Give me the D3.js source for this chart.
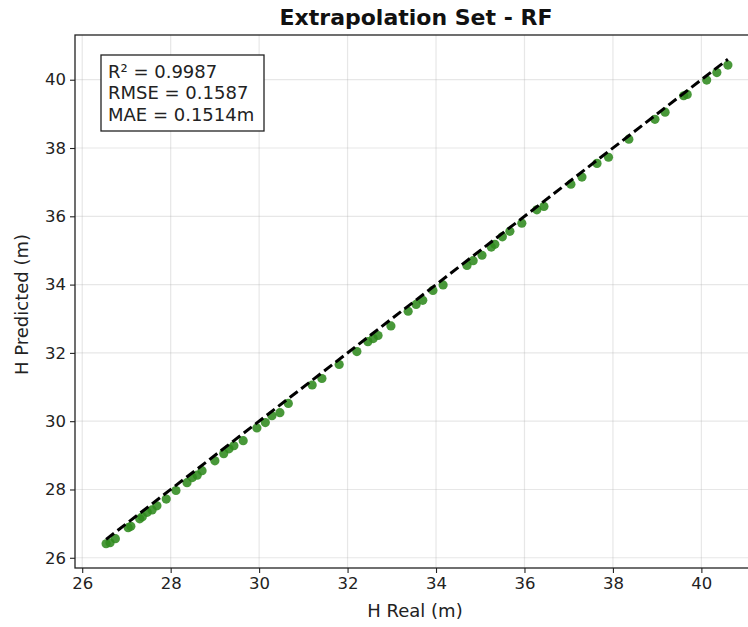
<!DOCTYPE html>
<html>
<head>
<meta charset="utf-8">
<script src="https://cdn.jsdelivr.net/npm/d3@7"></script>
<style>
  body { margin: 0; background: #fff; }
  svg { font-family: "DejaVu Sans", sans-serif; }
</style>
</head>
<body>
<svg class="svg" width="748" height="627"></svg>
<script>
// H real vs predicted
const hReal = [26.54, 26.63, 26.75, 27.04, 27.1, 27.3, 27.36, 27.47, 27.58, 27.69,
  27.9, 28.12, 28.37, 28.49, 28.6, 28.71, 29.0, 29.2, 29.32, 29.43,
  29.64, 29.95, 30.14, 30.29, 30.47, 30.66, 31.2, 31.42, 31.81, 32.21,
  32.46, 32.58, 32.69, 32.98, 33.37, 33.55, 33.7, 33.93, 34.16, 34.7,
  34.84, 35.04, 35.25, 35.33, 35.5, 35.67, 35.94, 36.28, 36.44, 37.05,
  37.3, 37.64, 37.9, 38.36, 38.95, 39.18, 39.6, 39.68, 40.12, 40.35, 40.6];
const hPred = [26.41, 26.44, 26.56, 26.88, 26.92, 27.14, 27.2, 27.33, 27.4, 27.52,
  27.72, 27.97, 28.2, 28.35, 28.42, 28.55, 28.84, 29.05, 29.19, 29.28,
  29.43, 29.8, 29.96, 30.16, 30.25, 30.52, 31.06, 31.25, 31.66, 32.04,
  32.33, 32.42, 32.51, 32.79, 33.22, 33.42, 33.54, 33.83, 33.99, 34.56,
  34.7, 34.86, 35.1, 35.18, 35.4, 35.56, 35.8, 36.19, 36.29, 36.94,
  37.15, 37.55, 37.73, 38.26, 38.84, 39.05, 39.53, 39.57, 39.99, 40.21, 40.43];
const tickVals = [26, 28, 30, 32, 34, 36, 38, 40];
const statLines = ['R\u00b2 = 0.9987', 'RMSE = 0.1587', 'MAE = 0.1514m'];

const points = hReal.map((d, i) => ({ x: d, y: hPred[i] }));
const lo = d3.min(hReal), hi = d3.max(hReal);

const pad = ext => {
  const m = (ext[1] - ext[0]) * 0.05;
  return [ext[0] - m, ext[1] + m];
};

const plotL = 75, plotR = 759, plotT = 35, plotB = 568;

const x = d3.scaleLinear().domain(pad([lo, hi])).range([plotL, plotR]);
const y = d3.scaleLinear()
  .domain(pad([Math.min(lo, d3.min(hPred)), Math.max(hi, d3.max(hPred))]))
  .range([plotB, plotT]);

const svg = d3.select('.svg');

// grid
svg.append('g')
  .selectAll('line')
  .data(tickVals)
  .join('line')
  .attr('x1', d => x(d)).attr('x2', d => x(d))
  .attr('y1', plotT).attr('y2', plotB)
  .attr('stroke', '#b0b0b0').attr('stroke-opacity', 0.3).attr('stroke-width', 1.2);
svg.append('g')
  .selectAll('line')
  .data(tickVals)
  .join('line')
  .attr('x1', plotL).attr('x2', plotR)
  .attr('y1', d => y(d)).attr('y2', d => y(d))
  .attr('stroke', '#b0b0b0').attr('stroke-opacity', 0.3).attr('stroke-width', 1.2);

// points
svg.append('g')
  .selectAll('circle')
  .data(points)
  .join('circle')
  .attr('cx', d => x(d.x))
  .attr('cy', d => y(d.y))
  .attr('r', 4.6)
  .attr('fill', '#2f8a1e')
  .attr('fill-opacity', 0.88);

// 1:1 line
svg.append('line')
  .attr('x1', x(lo)).attr('y1', y(lo))
  .attr('x2', x(hi)).attr('y2', y(hi))
  .attr('stroke', '#000')
  .attr('stroke-width', 3)
  .attr('stroke-dasharray', '10,4.5');

// axes
const xAxis = svg.append('g')
  .attr('transform', `translate(0,${plotB})`)
  .call(d3.axisBottom(x).tickValues(tickVals).tickSize(5).tickPadding(4));
const yAxis = svg.append('g')
  .attr('transform', `translate(${plotL},0)`)
  .call(d3.axisLeft(y).tickValues(tickVals).tickSize(5).tickPadding(4));
[xAxis, yAxis].forEach(a => {
  a.select('.domain').remove();
  a.selectAll('line').attr('stroke', '#222').attr('stroke-width', 1.1);
  a.selectAll('text')
    .attr('fill', '#222')
    .style('font-family', '"DejaVu Sans", sans-serif')
    .style('font-size', '16.5px');
});

// frame
svg.append('rect')
  .attr('x', plotL).attr('y', plotT)
  .attr('width', plotR - plotL).attr('height', plotB - plotT)
  .attr('fill', 'none').attr('stroke', '#222').attr('stroke-width', 1.3);

// stats box
svg.append('rect')
  .attr('x', 101).attr('y', 55)
  .attr('width', 163).attr('height', 76)
  .attr('fill', '#fff').attr('stroke', '#222').attr('stroke-width', 1.3);
svg.append('g')
  .selectAll('text')
  .data(statLines)
  .join('text')
  .attr('x', 108)
  .attr('y', (d, i) => 77.5 + i * 21.5)
  .attr('fill', '#222')
  .style('font-size', '18px')
  .text(d => d);

// titles
svg.append('text')
  .attr('x', 416).attr('y', 25)
  .attr('text-anchor', 'middle')
  .attr('fill', '#111')
  .style('font-size', '22px').style('font-weight', 'bold')
  .text('Extrapolation Set - RF');
svg.append('text')
  .attr('x', 415).attr('y', 617)
  .attr('text-anchor', 'middle')
  .attr('fill', '#222')
  .style('font-size', '18px')
  .text('H Real (m)');
svg.append('text')
  .attr('transform', `translate(28,${(plotT + plotB) / 2 + 3}) rotate(-90)`)
  .attr('text-anchor', 'middle')
  .attr('fill', '#222')
  .style('font-size', '18px')
  .text('H Predicted (m)');
</script>
</body>
</html>
